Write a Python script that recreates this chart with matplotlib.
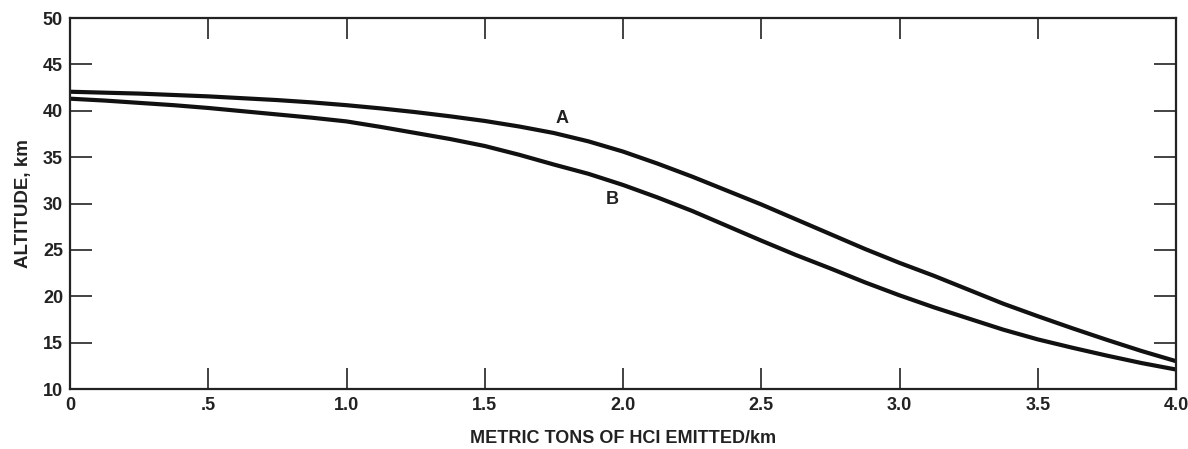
import matplotlib.pyplot as plt

# values
hcl_tons = [0, .125, .25, .375, .5, .625, .75, .875, 1.0, 1.125, 1.25, 1.375, 1.5, 1.625, 1.75, 1.875,
            2.0, 2.125, 2.25, 2.375, 2.5, 2.625, 2.75, 2.875, 3.0, 3.125, 3.25, 3.375, 3.5, 3.625,
            3.75, 3.875, 4.0]
alt_a = [42.05, 41.95, 41.85, 41.7, 41.55, 41.35, 41.15, 40.9, 40.6, 40.25, 39.85, 39.4, 38.9, 38.3,
         37.6, 36.7, 35.6, 34.3, 32.9, 31.4, 29.9, 28.3, 26.7, 25.1, 23.6, 22.2, 20.7, 19.2, 17.85,
         16.55, 15.3, 14.1, 13.0]
alt_b = [41.3, 41.1, 40.85, 40.6, 40.3, 39.95, 39.6, 39.25, 38.85, 38.25, 37.6, 36.95, 36.2, 35.25,
         34.2, 33.2, 32.0, 30.65, 29.2, 27.6, 26.0, 24.45, 23.0, 21.5, 20.1, 18.8, 17.6, 16.4, 15.35,
         14.45, 13.6, 12.8, 12.1]

x_ticks = [0, .5, 1.0, 1.5, 2.0, 2.5, 3.0, 3.5, 4.0]
x_tick_labels = ["0", ".5", "1.0", "1.5", "2.0", "2.5", "3.0", "3.5", "4.0"]
y_ticks = [10, 15, 20, 25, 30, 35, 40, 45, 50]

plt.rcParams['font.family'] = ['Liberation Sans', 'DejaVu Sans']

fig = plt.figure(figsize=(11.88, 4.49), dpi=100)
ax = fig.add_axes([70 / 1188, 1 - 389 / 449, 1106 / 1188, 371 / 449])

ax.plot(hcl_tons, alt_a, color='#111111', lw=3.0, solid_joinstyle='round')
ax.plot(hcl_tons, alt_b, color='#111111', lw=3.0, solid_joinstyle='round')

ax.text(1.78, 39.2, "A", ha='center', va='center', fontsize=13, fontweight='bold', color='#222222')
ax.text(1.96, 30.4, "B", ha='center', va='center', fontsize=13, fontweight='bold', color='#222222')

ax.set_xlim(0, 4.0)
ax.set_ylim(10, 50)
ax.set_xticks(x_ticks)
ax.set_xticklabels(x_tick_labels)
ax.set_yticks(y_ticks)

ax.tick_params(axis='x', direction='in', length=15, width=1.2, top=True, pad=6,
               labelsize=13, colors='#222222')
ax.tick_params(axis='y', direction='in', length=16, width=1.2, right=True, pad=5,
               labelsize=13, colors='#222222')
for lbl in ax.get_xticklabels() + ax.get_yticklabels():
    lbl.set_fontweight('bold')

for s in ax.spines.values():
    s.set_linewidth(1.6)
    s.set_color('#222222')

ax.set_xlabel("METRIC TONS OF HCI EMITTED/km", fontsize=13, fontweight='bold',
              color='#222222', labelpad=11)
ax.set_ylabel("ALTITUDE, km", fontsize=13.5, fontweight='bold', color='#222222', labelpad=8)

fig.savefig("out.png", dpi=100, facecolor='white')
